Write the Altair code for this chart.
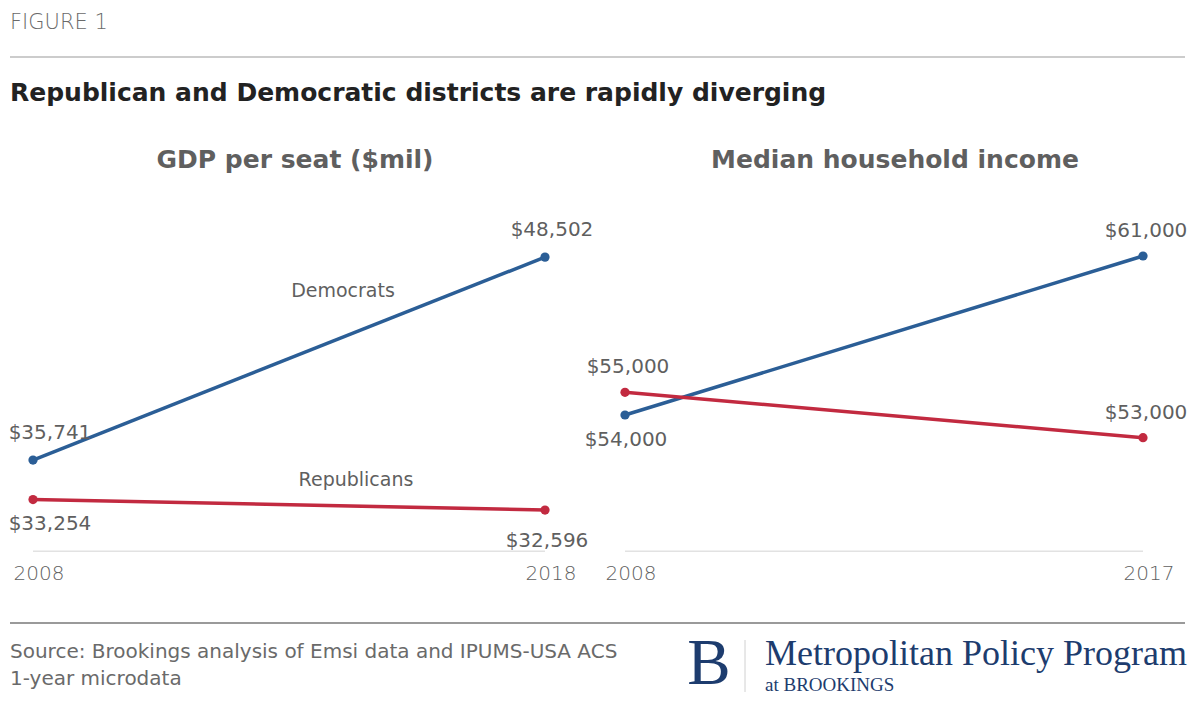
import altair as alt
import pandas as pd

# ---- data ----
parties = ["Democrats", "Republicans"]
gdp_years = [2008, 2018]
gdp_dem = [35741, 48502]
gdp_rep = [33254, 32596]
inc_years = [2008, 2017]
inc_dem = [54000, 61000]
inc_rep = [55000, 53000]

gdp_df = pd.DataFrame({
    "year": gdp_years + gdp_years,
    "party": [parties[0]] * 2 + [parties[1]] * 2,
    "value": gdp_dem + gdp_rep,
})
inc_df = pd.DataFrame({
    "year": inc_years + inc_years,
    "party": [parties[0]] * 2 + [parties[1]] * 2,
    "value": inc_dem + inc_rep,
})
gdp_base = pd.DataFrame({"year": [gdp_years[0]], "year2": [gdp_years[-1]], "value": [30000]})
inc_base = pd.DataFrame({"year": [inc_years[0]], "year2": [inc_years[-1]], "value": [48000]})

BLUE = "#2b5e96"
RED = "#c22a40"
GRAY = "#5f5f5f"
NAVY = "#1d3c6e"
FONT = "DejaVu Sans"
SERIF = "Liberation Serif"

color_scale = alt.Scale(domain=parties, range=[BLUE, RED])
Y_RANGE = [543.3, 225.3]


def panel(df, base, years, ydomain, xrange):
    xs = alt.Scale(domain=[years[0], years[-1]], range=xrange)
    ys = alt.Scale(domain=ydomain, range=Y_RANGE)
    X = alt.X("year:Q", scale=xs, axis=None)
    Y = alt.Y("value:Q", scale=ys, axis=None)
    basec = alt.Chart(df)
    rule = alt.Chart(base).mark_rule(color="#e2e2e2", strokeWidth=1.5).encode(
        x=X, x2="year2:Q", y=Y)
    lines = basec.mark_line(strokeWidth=3.5).encode(
        x=X, y=Y, color=alt.Color("party:N", scale=color_scale, legend=None),
        detail="party:N")
    pts = basec.mark_circle(size=85, opacity=1).encode(
        x=X, y=Y, color=alt.Color("party:N", scale=color_scale, legend=None))
    yl = pd.DataFrame({"year": years})
    yrs = alt.Chart(yl).mark_text(font=FONT, fontSize=20, color=GRAY, dx=6, fontWeight=300).encode(
        x=X, y=alt.value(566), text=alt.Text("year:Q", format="d"))
    return rule, lines, pts, yrs, basec, X, Y


L_XR = [25, 537]
R_XR = [617, 1135]

rule_l, lines_l, pts_l, yrs_l, base_l, XL, YL = panel(gdp_df, gdp_base, gdp_years, [30000, 50000], L_XR)
rule_r, lines_r, pts_r, yrs_r, base_r, XR, YR = panel(inc_df, inc_base, inc_years, [48000, 62000], R_XR)

lab = dict(font=FONT, fontSize=20, color=GRAY)
fmt = alt.Text("value:Q", format="$,.0f")

# left value labels
l_above = base_l.transform_filter("datum.party == 'Democrats' && datum.year == 2008").mark_text(dy=-27, dx=17, **lab).encode(x=XL, y=YL, text=fmt)
l_above_b = base_l.transform_filter("datum.party == 'Democrats' && datum.year == 2018").mark_text(dy=-27, dx=7, **lab).encode(x=XL, y=YL, text=fmt)
l_below_a = base_l.transform_filter("datum.party == 'Republicans' && datum.year == 2008").mark_text(dy=24, dx=17, **lab).encode(x=XL, y=YL, text=fmt)
l_below_b = base_l.transform_filter("datum.party == 'Republicans' && datum.year == 2018").mark_text(dy=31, dx=2, **lab).encode(x=XL, y=YL, text=fmt)

# right value labels
r_above = base_r.transform_filter("datum.party == 'Republicans' || datum.year == 2017").mark_text(dy=-25, dx=3, **lab).encode(x=XR, y=YR, text=fmt)
r_below = base_r.transform_filter("datum.party == 'Democrats' && datum.year == 2008").mark_text(dy=25, dx=1, **lab).encode(x=XR, y=YR, text=fmt)

# static annotations
anno = pd.DataFrame({"k": [0]})
A = alt.Chart(anno)


def txt(s, x, y, **kw):
    return A.mark_text(text=s, **kw).encode(x=alt.value(x), y=alt.value(y))


texts = [
    txt("FIGURE 1", 2, 15, font=FONT, fontSize=21, color="#6a6a6a", align="left", fontWeight=300),
    txt("Republican and Democratic districts are rapidly diverging", 2, 85, font=FONT, fontSize=25,
        fontWeight="bold", color="#222222", align="left"),
    txt("GDP per seat ($mil)", 287, 152, font=FONT, fontSize=25, fontWeight="bold", color=GRAY),
    txt("Median household income", 887, 152, font=FONT, fontSize=25, fontWeight="bold", color=GRAY),
    txt("Democrats", 335, 283, font=FONT, fontSize=19, color=GRAY),
    txt("Republicans", 348, 472, font=FONT, fontSize=19, color=GRAY),
    txt("Source: Brookings analysis of Emsi data and IPUMS-USA ACS", 2, 644, font=FONT, fontSize=20,
        color="#6a6a6a", align="left"),
    txt("1-year microdata", 2, 671, font=FONT, fontSize=20, color="#6a6a6a", align="left"),
    txt("B", 701, 676, font=SERIF, fontSize=65, color=NAVY, baseline="alphabetic"),
    txt("Metropolitan Policy Program", 757, 646, font=SERIF, fontSize=36, color=NAVY, align="left"),
    txt("at BROOKINGS", 757, 677, font=SERIF, fontSize=19, color=NAVY, align="left"),
]

top_rule = A.mark_rule(color="#9a9a9a", strokeWidth=1.2).encode(x=alt.value(2), x2=alt.value(1177), y=alt.value(49))
bot_rule = A.mark_rule(color="#9a9a9a", strokeWidth=2).encode(x=alt.value(2), x2=alt.value(1177), y=alt.value(615))
logo_rule = A.mark_rule(color="#d0d0d0", strokeWidth=1).encode(x=alt.value(737), y=alt.value(632), y2=alt.value(684))

chart = alt.layer(
    rule_l, rule_r, lines_l, lines_r, pts_l, pts_r, yrs_l, yrs_r,
    l_above, l_above_b, l_below_a, l_below_b, r_above, r_below,
    top_rule, bot_rule, logo_rule, *texts
).resolve_scale(x="independent", y="independent", color="shared").properties(
    width=1186, height=688, autosize=alt.AutoSizeParams(type="none"), padding=0,
    background="white"
).configure_view(stroke="transparent", strokeWidth=0)

chart.save("out.html", embed_options={"renderer": "svg", "actions": False})
